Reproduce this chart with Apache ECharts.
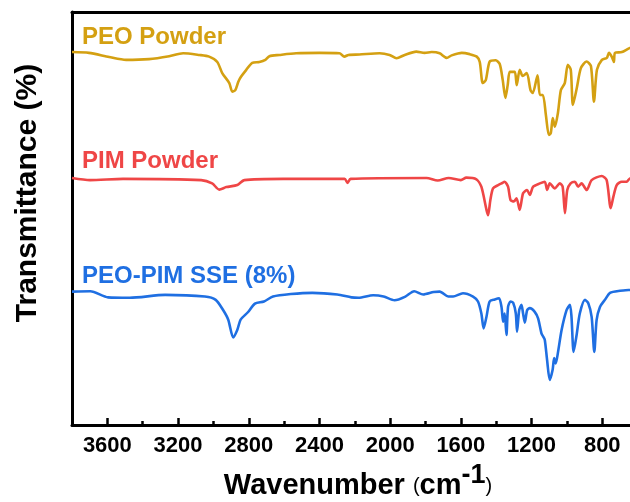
<!DOCTYPE html>
<html>
<head>
<meta charset="utf-8">
<script src="https://cdn.jsdelivr.net/npm/echarts@6/dist/echarts.min.js"></script>
<style>
  html, body { margin: 0; padding: 0; background: #fff; }
  #chart { width: 630px; height: 502px; }
</style>
</head>
<body>
<div id="chart"></div>
<script>
// wavenumber (cm-1) and stacked transmittance (a.u.)
var peoWave = [3800, 3704, 3590, 3494, 3364, 3250, 3171, 3080, 3024, 2978, 2950, 2910, 2893, 2876, 2859, 2844, 2814, 2780, 2740, 2706, 2683, 2627, 2532, 2400, 2287, 2259, 2236, 2174, 2060, 2003, 1964, 1918, 1852, 1805, 1765, 1720, 1680, 1652, 1595, 1550, 1510, 1493, 1476, 1459, 1437, 1403, 1380, 1363, 1348, 1335, 1323, 1295, 1284, 1267, 1250, 1227, 1206, 1193, 1166, 1153, 1136, 1119, 1102, 1091, 1080, 1068, 1051, 1034, 1012, 995, 978, 966, 944, 921, 889, 864, 847, 830, 802, 774, 762, 745, 734, 728, 689, 643, 600]
var peoT = [90.3, 90.1, 89.1, 88.4, 88.6, 89.3, 90.0, 89.6, 89.2, 87.9, 85.2, 82.8, 80.7, 81.1, 83.1, 84.3, 86.0, 87.7, 87.9, 88.4, 89.3, 89.6, 90.0, 90.1, 90.0, 89.2, 89.6, 89.7, 90.0, 89.6, 88.8, 89.6, 90.4, 90.1, 90.3, 90.0, 88.9, 89.5, 90.1, 89.8, 89.2, 87.9, 82.8, 83.5, 88.0, 88.3, 87.4, 83.5, 79.2, 82.3, 85.5, 85.5, 82.3, 86.0, 84.5, 85.2, 81.1, 80.4, 84.7, 79.9, 79.9, 75.1, 70.2, 70.7, 74.3, 72.2, 75.5, 81.1, 82.8, 87.2, 86.0, 77.5, 81.6, 86.4, 88.0, 86.9, 78.3, 86.0, 88.4, 88.9, 90.1, 89.1, 87.9, 90.1, 90.3, 91.3, 91.5]

var pimWave = [3800, 3698, 3511, 3069, 3007, 2967, 2927, 2865, 2825, 2604, 2258, 2241, 2224, 1794, 1731, 1669, 1600, 1569, 1512, 1484, 1455, 1446, 1433, 1418, 1389, 1370, 1352, 1333, 1319, 1300, 1285, 1267, 1248, 1225, 1210, 1191, 1153, 1125, 1112, 1097, 1068, 1040, 1024, 1011, 998, 979, 955, 936, 917, 888, 860, 803, 775, 752, 737, 718, 690, 662, 643, 600]
var pimT = [59.8, 59.3, 59.6, 59.3, 58.5, 57.0, 57.6, 58.1, 59.3, 59.6, 59.6, 58.6, 59.6, 59.8, 59.2, 59.8, 59.3, 59.9, 59.5, 57.7, 52.1, 50.8, 54.5, 57.3, 58.1, 58.5, 58.9, 57.7, 54.5, 54.1, 54.9, 52.1, 56.1, 56.9, 55.7, 57.7, 58.5, 58.9, 56.9, 58.5, 57.3, 58.5, 57.7, 51.3, 56.9, 58.5, 58.9, 57.7, 58.5, 56.9, 59.3, 60.3, 59.3, 52.5, 55.3, 58.1, 58.9, 58.9, 59.7, 59.8]

var sseWave = [3800, 3696, 3596, 3473, 3273, 3048, 2987, 2946, 2916, 2888, 2865, 2846, 2805, 2765, 2714, 2663, 2562, 2440, 2299, 2219, 2179, 2096, 2037, 1975, 1914, 1864, 1813, 1754, 1720, 1671, 1644, 1588, 1531, 1503, 1484, 1471, 1455, 1437, 1408, 1384, 1370, 1361, 1352, 1342, 1333, 1319, 1304, 1289, 1282, 1270, 1257, 1248, 1238, 1225, 1210, 1182, 1163, 1144, 1134, 1125, 1112, 1097, 1081, 1072, 1063, 1050, 1030, 1002, 983, 974, 962, 945, 927, 898, 879, 860, 845, 832, 813, 785, 756, 699, 643, 600]
var sseT = [32.3, 32.4, 30.9, 30.8, 31.5, 31.1, 30.3, 27.9, 25.5, 21.2, 23.0, 25.5, 27.3, 29.4, 29.9, 31.1, 31.7, 32.0, 31.6, 30.9, 30.8, 31.4, 31.1, 30.2, 31.1, 32.4, 31.6, 32.2, 32.3, 31.1, 31.1, 31.9, 31.1, 29.9, 27.0, 23.4, 26.2, 29.9, 30.4, 30.7, 28.6, 25.0, 27.0, 21.8, 28.6, 29.9, 29.6, 27.0, 22.6, 27.8, 29.1, 27.0, 24.8, 27.8, 28.3, 27.4, 25.8, 22.2, 21.4, 20.6, 15.7, 10.9, 13.3, 16.2, 14.9, 17.7, 23.0, 27.8, 29.1, 26.2, 17.7, 21.8, 27.0, 30.3, 29.5, 26.2, 17.7, 25.4, 28.6, 30.3, 32.0, 32.5, 32.7, 32.8]

// tick positions every 200 cm-1; labelled ones every 400
var tickLabels = ['3800', '3600', '3400', '3200', '3000', '2800', '2600', '2400', '2200', '2000', '1800', '1600', '1400', '1200', '1000', '800']

var seriesNames = ['PEO Powder', 'PIM Powder', 'PEO-PIM SSE (8%)']
var seriesColors = ['#D4A012', '#EF4646', '#1F6FE2']

function pairs (xs, ys) {
  return xs.map(function (x, i) {
    return [x, ys[i]]
  })
}

var font = 'Liberation Sans, Arial, sans-serif'
var chart = echarts.init(document.getElementById('chart'))

var lines = [pairs(peoWave, peoT), pairs(pimWave, pimT), pairs(sseWave, sseT)]
var labelY = [37, 161, 276]

// visible x range: the right end of the plot is cut by the picture edge
var xMin = 643
var xMax = 3800
var plotLeft = 72
var plotWidth = 558
var tickLast = 800
// tick grid spans 3800 .. 800 on the same pixel scale as the data grid
var tickWidth = plotWidth * (xMax - tickLast) / (xMax - xMin)

function isMajor (idx) { return idx % 2 === 1 }
function isMinor (idx) { return idx > 0 && idx % 2 === 0 }

var option = {
  backgroundColor: '#fff',
  animation: false,
  grid: [{
    left: plotLeft,
    width: plotWidth,
    top: 12,
    bottom: 77
  }, {
    left: plotLeft,
    width: tickWidth,
    top: 12,
    bottom: 77
  }],
  xAxis: [{
    type: 'value',
    gridIndex: 0,
    inverse: true,
    min: xMin,
    max: xMax,
    axisLine: { show: true, lineStyle: { color: '#000', width: 3 } },
    splitLine: { show: false },
    axisTick: { show: false },
    axisLabel: { show: false }
  }, {
    type: 'value',
    gridIndex: 0,
    inverse: true,
    position: 'top',
    min: xMin,
    max: xMax,
    axisLine: { show: true, lineStyle: { color: '#000', width: 3 } },
    splitLine: { show: false },
    axisLabel: { show: false },
    axisTick: { show: false }
  }, {
    type: 'category',
    gridIndex: 1,
    position: 'bottom',
    data: tickLabels,
    boundaryGap: false,
    axisLine: { show: false },
    splitLine: { show: false },
    axisTick: {
      show: true,
      inside: true,
      length: 7,
      interval: isMajor,
      lineStyle: { color: '#000', width: 2.5 }
    },
    axisLabel: {
      margin: 10,
      color: '#000',
      fontFamily: font,
      fontWeight: 'bold',
      fontSize: 22,
      interval: isMajor
    }
  }, {
    type: 'category',
    gridIndex: 1,
    position: 'bottom',
    data: tickLabels,
    boundaryGap: false,
    axisLine: { show: false },
    splitLine: { show: false },
    axisLabel: { show: false },
    axisTick: {
      show: true,
      inside: true,
      length: 4,
      interval: isMinor,
      lineStyle: { color: '#000', width: 2.5 }
    }
  }],
  yAxis: [{
    type: 'value',
    gridIndex: 0,
    min: 0,
    max: 100,
    axisLine: { show: true, lineStyle: { color: '#000', width: 3 } },
    axisTick: { show: false },
    axisLabel: { show: false },
    splitLine: { show: false }
  }, {
    type: 'value',
    gridIndex: 1,
    show: false
  }],
  series: lines.map(function (d, i) {
    return {
      name: seriesNames[i],
      type: 'line',
      xAxisIndex: 0,
      yAxisIndex: 0,
      data: d,
      symbol: 'none',
      smooth: 0.25,
      lineStyle: { color: seriesColors[i], width: 2.6 }
    }
  }),
  graphic: seriesNames.map(function (name, i) {
    return {
      type: 'text',
      x: 82,
      y: labelY[i],
      style: {
        text: name,
        fill: seriesColors[i],
        font: 'bold 24px ' + font,
        verticalAlign: 'middle'
      }
    }
  }).concat([{
    type: 'text',
    x: 28,
    y: 193,
    rotation: Math.PI / 2,
    style: {
      text: 'Transmittance (%)',
      fill: '#000',
      font: 'bold 30px ' + font,
      align: 'center',
      verticalAlign: 'middle'
    }
  }, {
    type: 'text',
    x: 358,
    y: 486,
    style: {
      text: '{a|Wavenumber }{p|(}{a|cm}{s|-1}{p|)}',
      align: 'center',
      verticalAlign: 'middle',
      rich: {
        a: { fontFamily: font, fontWeight: 'bold', fontSize: 29, fill: '#000', color: '#000', verticalAlign: 'middle' },
        p: { fontFamily: font, fontSize: 20, fill: '#000', color: '#000', verticalAlign: 'middle' },
        s: { fontFamily: font, fontWeight: 'bold', fontSize: 27, fill: '#000', color: '#000', verticalAlign: 'middle', padding: [0, 0, 20, 0] }
      }
    }
  }])
}

chart.setOption(option)
</script>
</body>
</html>
